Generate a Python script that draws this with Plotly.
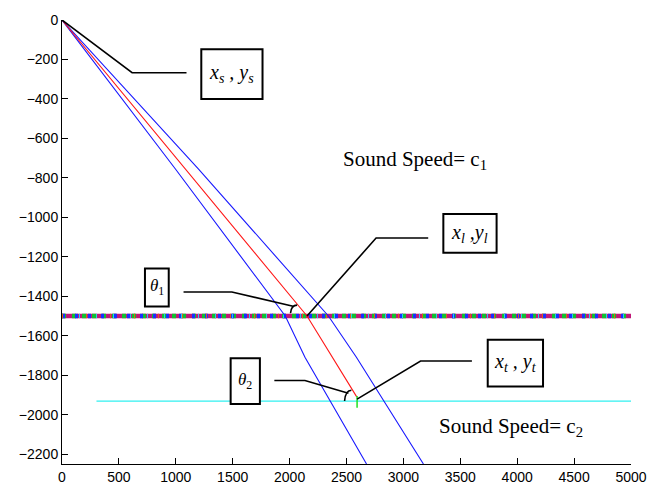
import plotly.graph_objects as go

# ---- data ----
ray_x = [0, 2153, 2590]
ray_y = [0, -1500, -1910]
beam_left_x = [0, 995, 1962, 2135, 2676]
beam_left_y = [0, -754, -1500, -1709, -2250]
beam_right_x = [0, 1198, 2341, 2587, 3176]
beam_right_y = [0, -754, -1500, -1709, -2250]
target_x = [2593, 2593]
target_y = [-1905, -1965]
interface_x = [0, 5000]
interface_y = [-1500, -1500]
bottom_x = [303, 5000]
bottom_y = [-1931, -1931]
x_ticks = list(range(0, 5001, 500))
y_ticks = list(range(0, -2201, -200))

fig = go.Figure()

# multicoloured interface line
fig.add_trace(go.Scatter(x=interface_x, y=interface_y, mode="lines",
                         line=dict(color="#c01878", width=4.5), hoverinfo="skip"))
fig.add_trace(go.Scatter(x=interface_x, y=interface_y, mode="lines",
                         line=dict(color="#10c030", width=4.5, dash="4px,6px"), hoverinfo="skip"))
fig.add_trace(go.Scatter(x=interface_x, y=interface_y, mode="lines",
                         line=dict(color="#1830ff", width=4.5, dash="3px,10px"), hoverinfo="skip"))
fig.add_trace(go.Scatter(x=interface_x, y=interface_y, mode="lines",
                         line=dict(color="#20d0f0", width=4.5, dash="1px,16px"), hoverinfo="skip"))
fig.add_trace(go.Scatter(x=interface_x, y=interface_y, mode="lines",
                         line=dict(color="#e06010", width=4.5, dash="1px,23px"), hoverinfo="skip"))

fig.add_trace(go.Scatter(x=bottom_x, y=bottom_y, mode="lines",
                         line=dict(color="#30f0f0", width=1.2)))
fig.add_trace(go.Scatter(x=beam_left_x, y=beam_left_y, mode="lines",
                         line=dict(color="#1818ff", width=1.1)))
fig.add_trace(go.Scatter(x=beam_right_x, y=beam_right_y, mode="lines",
                         line=dict(color="#1818ff", width=1.1)))
fig.add_trace(go.Scatter(x=ray_x, y=ray_y, mode="lines",
                         line=dict(color="#ff1818", width=1.1)))
fig.add_trace(go.Scatter(x=target_x, y=target_y, mode="lines",
                         line=dict(color="#20e020", width=1.5)))

blk = dict(color="black", width=1.6)
shapes = []
# leader lines
for path in ["M 0,0 L 616,-267 L 1094,-267",
             "M 2153,-1500 L 2760,-1105 L 3218,-1105",
             "M 1068,-1378 L 1493,-1378 L 2040,-1452",
             "M 1866,-1827 L 2135,-1827 L 2517,-1891",
             "M 2593,-1921 L 3151,-1728 L 3602,-1728",
             "M 2008,-1486 Q 2014,-1445 2066,-1445",
             "M 2483,-1931 Q 2490,-1876 2543,-1876"]:
    shapes.append(dict(type="path", path=path, xref="x", yref="y", line=blk))
# boxes
for (x0, x1, y0, y1) in [(1224, 1762, -148, -400),
                         (3351, 3819, -983, -1180),
                         (729, 938, -1259, -1452),
                         (1482, 1739, -1714, -1946),
                         (3741, 4227, -1620, -1857)]:
    shapes.append(dict(type="rect", x0=x0, x1=x1, y0=y0, y1=y1, xref="x", yref="y",
                       line=dict(color="black", width=2), fillcolor="white"))

serif = "Liberation Serif"
ann = []
def label(x, y, text, size=20):
    ann.append(dict(x=x, y=y, xref="x", yref="y", text=text, showarrow=False,
                    font=dict(family=serif, size=size, color="black")))

label(1493, -272, "<i>x</i><sub><i>s</i></sub><i> , y</i><sub><i>s</i></sub>")
label(3585, -1081, "<i>x</i><sub><i>l</i></sub><i> ,y</i><sub><i>l</i></sub>")
label(833, -1355, "<i>θ</i><sub>1</sub>", 17)
label(1610, -1830, "<i>θ</i><sub>2</sub>", 17)
label(3984, -1738, "<i>x</i><sub><i>t</i></sub><i> , y</i><sub><i>t</i></sub>")
ann.append(dict(x=(345 - 62) / 0.11533, y=-(158 - 14) / 0.2026, xref="x", yref="y",
                xanchor="left", text="Sound Speed= c<sub>1</sub>", showarrow=False,
                font=dict(family=serif, size=21, color="black")))
ann.append(dict(x=(442 - 62) / 0.11533, y=-(432 - 14) / 0.2026, xref="x", yref="y",
                xanchor="left", text="Sound Speed= c<sub>2</sub>", showarrow=False,
                font=dict(family=serif, size=21, color="black")))

fig.update_layout(
    width=659, height=497,
    margin=dict(l=62, r=21, t=14, b=28),
    paper_bgcolor="white", plot_bgcolor="white",
    showlegend=False,
    shapes=shapes, annotations=ann,
    font=dict(family="Liberation Sans", size=14, color="black"),
)
fig.update_xaxes(range=[0, 5000], tickvals=x_ticks, ticks="inside", ticklen=6,
                 tickcolor="black", showline=True, linecolor="black", linewidth=1,
                 showgrid=False, zeroline=False, tickfont=dict(size=14))
fig.update_yaxes(range=[-2250, 0], tickvals=y_ticks, ticks="inside", ticklen=6,
                 tickcolor="black", showline=True, linecolor="black", linewidth=1,
                 showgrid=False, zeroline=False, tickfont=dict(size=14))

fig.write_html("out.html")
